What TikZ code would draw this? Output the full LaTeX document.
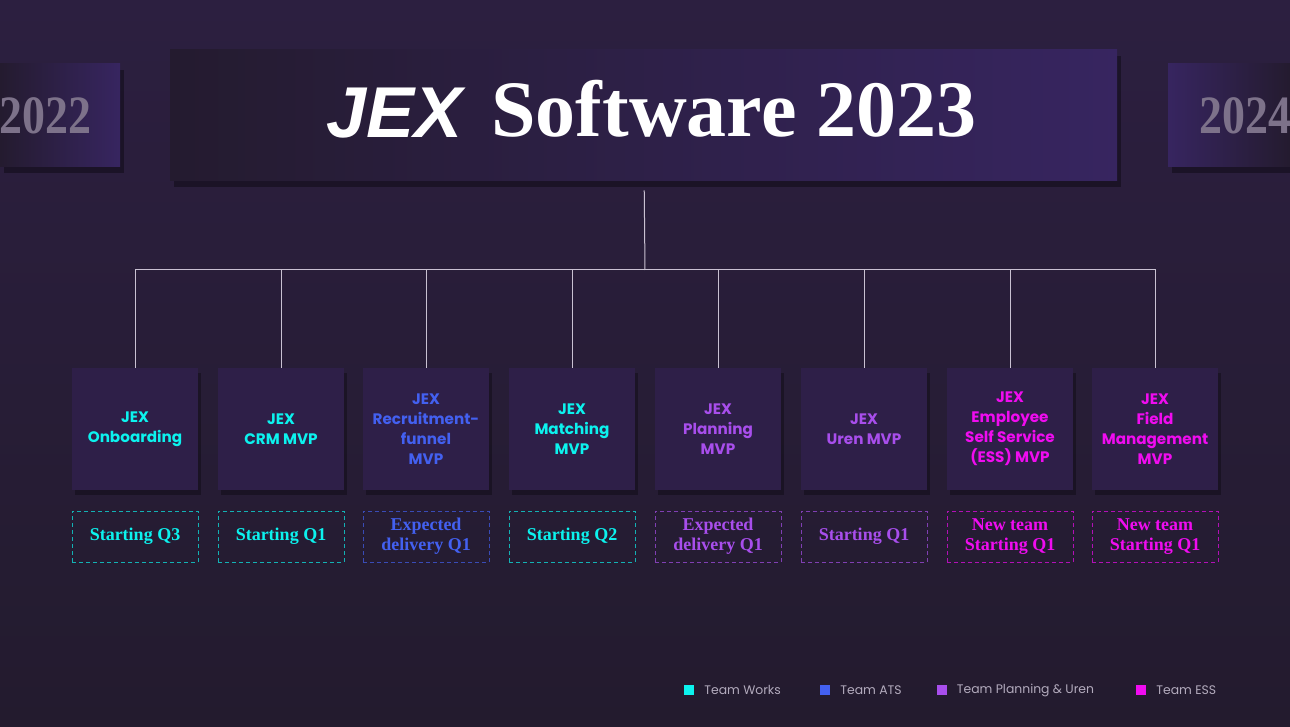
\documentclass[tikz,border=0pt]{standalone}
\usepackage{fontspec}
\setmainfont{Liberation Serif}
\newfontfamily\cardfont{Poppins}
\newfontfamily\logofont{Liberation Sans}
\usetikzlibrary{shadows}
\definecolor{bgtop}{HTML}{2C1F40}
\definecolor{bgbot}{HTML}{231B2E}
\definecolor{boxdark}{HTML}{241B2F}
\definecolor{boxlight}{HTML}{372560}
\definecolor{cardfill}{HTML}{2E1F48}
\definecolor{works}{HTML}{0CF2EE}
\definecolor{ats}{HTML}{4360F0}
\definecolor{planning}{HTML}{A84EEC}
\definecolor{ess}{HTML}{F00CF0}
\definecolor{yeargray}{HTML}{7D728A}
\definecolor{treeline}{HTML}{C9C1D2}
\definecolor{legendgray}{HTML}{B3ABBD}
\begin{document}
\begin{tikzpicture}[x=0.5pt,y=-0.5pt,
  card/.style={fill=cardfill,minimum width=63pt,minimum height=61pt,inner sep=0pt,align=center,
    text=#1,font=\cardfont\bfseries\fontsize{7.6}{10}\selectfont,
    drop shadow={shadow xshift=1.5pt,shadow yshift=-2.5pt,opacity=.3,fill=black}},
  status/.style={draw=#1!70!bgbot,line width=.5pt,dash pattern=on 2pt off 1.5pt,
    minimum width=63pt,minimum height=25.5pt,inner sep=0pt,align=center,
    text=#1,font=\bfseries\fontsize{9}{10}\selectfont},
  panel/.style={inner sep=0pt,drop shadow={shadow xshift=2pt,shadow yshift=-3pt,opacity=.35,fill=black}},
  tree/.style={draw=treeline,line width=.5pt},
  year/.style={inner sep=0pt,text=yeargray,font=\bfseries\fontsize{27}{30}\selectfont},
  key/.style={fill=#1,minimum size=5pt,inner sep=0pt},
  keytext/.style={anchor=west,inner sep=0pt,text=legendgray,font=\cardfont\fontsize{6.2}{7}\selectfont}]
\useasboundingbox (0,0) rectangle (1290,727);
\shade[top color=bgtop,bottom color=bgbot] (0,0) rectangle (1290,727);
% years either side
\node[panel,minimum width=60pt,minimum height=51.5pt,left color=boxdark,right color=boxlight] (y22) at (60,115.5) {};
\node[panel,minimum width=61pt,minimum height=51.5pt,left color=boxlight,right color=boxdark] (y24) at (1229,115.5) {};
\node[year,anchor=east] (t22) at (92,116) {\scalebox{.85}[1]{2022}};
\node[year,anchor=west] (t24) at (1199,116) {\scalebox{.85}[1]{2024}};
% title
\node[panel,minimum width=473.5pt,minimum height=65.5pt,left color=boxdark,right color=boxlight] (title) at (643.5,115.5) {};
\node[anchor=base west,inner sep=0pt,text=white,font=\logofont\bfseries\itshape\fontsize{36}{40}\selectfont] (logo) at (326,138) {JEX};
\node[anchor=base west,inner sep=0pt,text=white,font=\bfseries\fontsize{40}{44}\selectfont] (heading) at (491,137) {Software 2023};
% products
\node[card=works] (onb) at (135,429) {JEX\\Onboarding};
\node[card=works] (crm) at (281,429) {JEX\\CRM MVP};
\node[card=ats] (rec) at (426,429) {JEX\\Recruitment-\\funnel\\MVP};
\node[card=works] (mat) at (572,429) {JEX\\Matching\\MVP};
\node[card=planning] (pla) at (718,429) {JEX\\Planning\\MVP};
\node[card=planning] (ure) at (864,429) {JEX\\Uren MVP};
\node[card=ess] (emp) at (1010,429) {JEX\\Employee\\Self Service\\(ESS) MVP};
\node[card=ess] (fld) at (1155,429) {JEX\\Field\\Management\\MVP};
% status
\node[status=works] (s-onb) at (135,536.5) {Starting Q3};
\node[status=works] (s-crm) at (281,536.5) {Starting Q1};
\node[status=ats] (s-rec) at (426,536.5) {Expected\\delivery Q1};
\node[status=works] (s-mat) at (572,536.5) {Starting Q2};
\node[status=planning] (s-pla) at (718,536.5) {Expected\\delivery Q1};
\node[status=planning] (s-ure) at (864,536.5) {Starting Q1};
\node[status=ess] (s-emp) at (1010,536.5) {New team\\Starting Q1};
\node[status=ess] (s-fld) at (1155,536.5) {New team\\Starting Q1};
% tree
\coordinate (hub) at (645,270);
\draw[tree,shorten <=4.5pt] (title) -- (hub);
\draw[tree] (hub) -| (onb);
\draw[tree] (hub) -| (crm);
\draw[tree] (hub) -| (rec);
\draw[tree] (hub) -| (mat);
\draw[tree] (hub) -| (pla);
\draw[tree] (hub) -| (ure);
\draw[tree] (hub) -| (emp);
\draw[tree] (hub) -| (fld);
% legend
\node[key=works] (k-works) at (688.5,690) {};
\node[keytext] (l-works) at (704,690) {Team Works};
\node[key=ats] (k-ats) at (825,690) {};
\node[keytext] (l-ats) at (840,690) {Team ATS};
\node[key=planning] (k-pla) at (942,690) {};
\node[keytext] (l-pla) at (956.5,690) {Team Planning \& Uren};
\node[key=ess] (k-ess) at (1141,690) {};
\node[keytext] (l-ess) at (1156,690) {Team ESS};
\end{tikzpicture}
\end{document}
